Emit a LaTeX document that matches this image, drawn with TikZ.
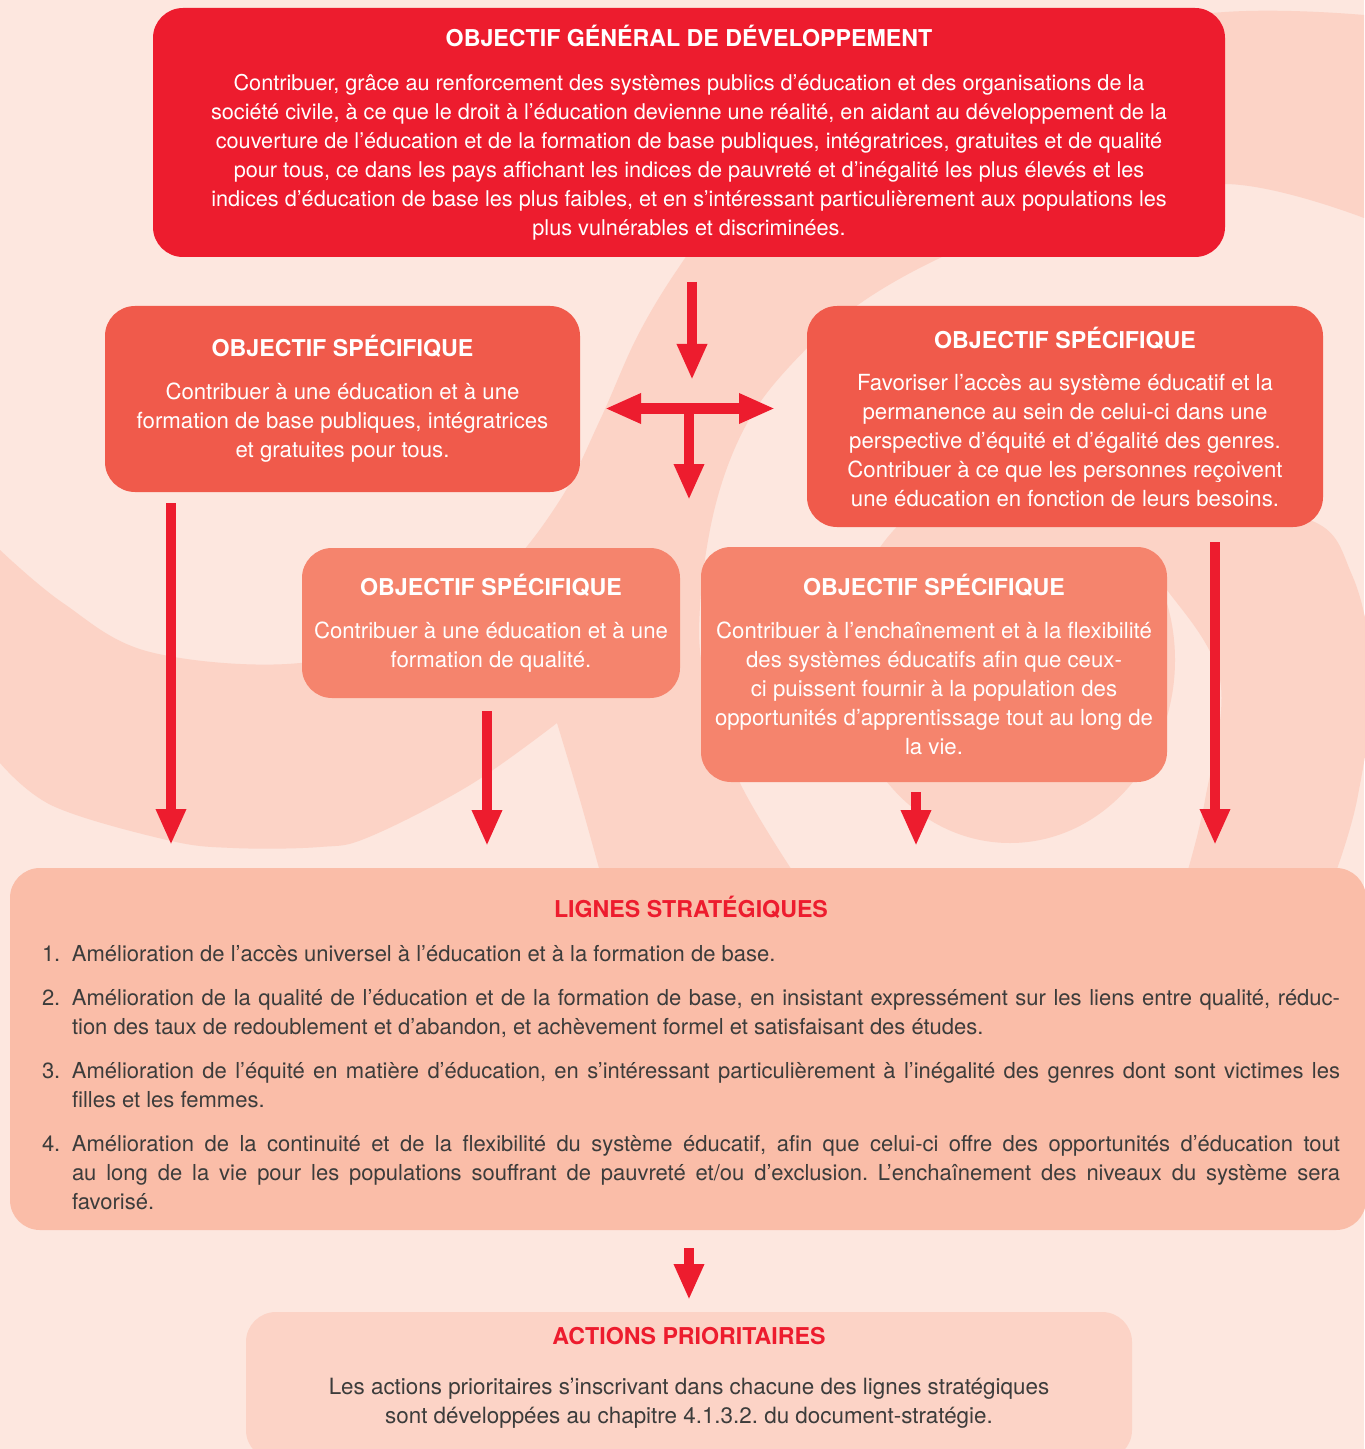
\documentclass[tikz,border=0pt]{standalone}
\usepackage{fontspec}
\setmainfont{TeX Gyre Heros}
\usepackage{tikz}
\usetikzlibrary{arrows.meta, positioning}

\definecolor{fondclair}{HTML}{FDE7DF}
\definecolor{fondvague}{HTML}{FCD3C6}
\definecolor{rouge}{HTML}{ED1C2E}
\definecolor{saumon}{HTML}{F05A4B}
\definecolor{corail}{HTML}{F5846D}
\definecolor{peche}{HTML}{FABDA8}
\definecolor{gris}{HTML}{3C3C3B}

\frenchspacing
\newcommand{\titre}[1]{{\bfseries\fontsize{11.6}{14.5}\selectfont #1}}
\newcommand{\ligne}[2]{\par\noindent\hangindent=15pt\hangafter=1\makebox[15pt][l]{#1}#2\par}

\tikzset{
  boite/.style={rounded corners=15pt, inner sep=0pt, align=center, text=white,
    font=\fontsize{11.1}{14.5}\selectfont},
  fleche/.style={draw=rouge, line width=5.4pt, -{Triangle[width=14pt,length=18pt]}},
}

\begin{document}
\begin{tikzpicture}[x=0.5pt, y=-0.5pt]
   \useasboundingbox (0,0) rectangle (1364,1449);
   \fill[fondclair] (0,0) rectangle (1364,1449);

   % swirls in the background
   \fill[fondvague]
     plot[smooth, tension=0.6] coordinates {(1364,15) (1225,12) (1000,40) (820,120) (720,215)
       (677,270) (637,337) (600,420) (560,500) (500,575) (420,625) (300,663) (150,652) (63,603) (0,550)}
     -- (0,763)
     -- plot[smooth, tension=0.6] coordinates {(0,763) (53,806) (167,840) (233,848) (320,847)
       (369,837) (470,785) (557,723)}
     -- plot[smooth, tension=0.6] coordinates {(557,723) (580,800) (605,890)}
     -- plot[smooth, tension=0.6] coordinates {(805,890) (740,783) (705,680) (700,606) (715,507)
       (745,427) (789,367) (855,307) (942,257) (1050,215) (1225,184) (1364,218)}
     -- cycle;
   \fill[fondvague]
     plot[smooth, tension=0.6] coordinates {(1120,515) (1300,517) (1352,575) (1372,680)
       (1357,800) (1333,880)}
     -- plot[smooth, tension=0.6] coordinates {(1185,880) (1205,800) (1220,680) (1167,590) (1120,545)}
     -- cycle;
   \fill[fondvague] (1010,660) ellipse [x radius=165, y radius=183];

   % boxes
   \node[boite, fill=rouge, minimum width=536pt, minimum height=124.5pt,
     font=\fontsize{10.85}{14.5}\selectfont] (gen) at (689,132.5)
     {\titre{OBJECTIF GÉNÉRAL DE DÉVELOPPEMENT}\\[7.5pt]
      Contribuer, grâce au renforcement des systèmes publics d’éducation et des organisations de la\\
      société civile, à ce que le droit à l’éducation devienne une réalité, en aidant au développement de la\\
      couverture de l’éducation et de la formation de base publiques, intégratrices, gratuites et de qualité\\
      pour tous, ce dans les pays affichant les indices de pauvreté et d’inégalité les plus élevés et les\\
      indices d’éducation de base les plus faibles, et en s’intéressant particulièrement aux populations les\\
      plus vulnérables et discriminées.};
   \node[boite, fill=saumon, minimum width=237.5pt, minimum height=93pt] (os1) at (342.5,399)
     {\titre{OBJECTIF SPÉCIFIQUE}\\[7pt]
      Contribuer à une éducation et à une\\
      formation de base publiques, intégratrices\\
      et gratuites pour tous.};
   \node[boite, fill=saumon, minimum width=258pt, minimum height=110.5pt] (os2) at (1065,416.5)
     {\titre{OBJECTIF SPÉCIFIQUE}\\[6.5pt]
      Favoriser l’accès au système éducatif et la\\
      permanence au sein de celui-ci dans une\\
      perspective d’équité et d’égalité des genres.\\
      Contribuer à ce que les personnes reçoivent\\
      une éducation en fonction de leurs besoins.};
   \node[boite, fill=corail, minimum width=189pt, minimum height=75pt] (os3) at (491,623)
     {\titre{OBJECTIF SPÉCIFIQUE}\\[7pt]
      Contribuer à une éducation et à une\\
      formation de qualité.};
   \node[boite, fill=corail, minimum width=233pt, minimum height=117.5pt] (os4) at (934,664.5)
     {\titre{OBJECTIF SPÉCIFIQUE}\\[7pt]
      Contribuer à l’enchaînement et à la flexibilité\\
      des systèmes éducatifs afin que ceux-\\
      ci puissent fournir à la population des\\
      opportunités d’apprentissage tout au long de\\
      la vie.};
   \node[boite, fill=peche, minimum width=678pt, minimum height=181pt] (lignes) at (688,1049) {};
   \node[boite, text=gris, text width=649pt, align=justify,
     font=\fontsize{11}{14.5}\selectfont] (lignestxt) at (691,1053)
     {\parskip=7.5pt\hyphenpenalty=10000\tolerance=9999
      {\centering\titre{\color{rouge}LIGNES STRATÉGIQUES}\par}
      \ligne{1.}{Amélioration de l’accès universel à l’éducation et à la formation de base.}
      \ligne{2.}{Amélioration de la qualité de l’éducation et de la formation de base, en insistant expressément sur les liens entre qualité, réduc-\linebreak
        tion des taux de redoublement et d’abandon, et achèvement formel et satisfaisant des études.}
      \ligne{3.}{Amélioration de l’équité en matière d’éducation, en s’intéressant particulièrement à l’inégalité des genres dont sont victimes les\linebreak
        filles et les femmes.}
      \ligne{4.}{Amélioration de la continuité et de la flexibilité du système éducatif, afin que celui-ci offre des opportunités d’éducation tout\linebreak
        au long de la vie pour les populations souffrant de pauvreté et/ou d’exclusion. L’enchaînement des niveaux du système sera\linebreak
        favorisé.}};
   \node[boite, fill=fondvague, minimum width=443pt, minimum height=74pt] (actions) at (689,1386) {};
   \node[boite, text=gris, font=\fontsize{11.2}{14.5}\selectfont] (actionstxt) at (689,1378)
     {\titre{\color{rouge}ACTIONS PRIORITAIRES}\\[10.5pt]
      Les actions prioritaires s’inscrivant dans chacune des lignes stratégiques\\
      sont développées au chapitre 4.1.3.2. du document-stratégie.};

   % arrows
   \coordinate (f0a) at (692,282);  \coordinate (f0b) at (692,380);
   \coordinate (cg)  at (605,408.5); \coordinate (cd) at (775,408.5);
   \coordinate (cm)  at (689,403);  \coordinate (cb)  at (689,500);
   \coordinate (f1a) at (171,503);  \coordinate (f1b) at (171,845);
   \coordinate (f2a) at (487,711);  \coordinate (f2b) at (487,846);
   \coordinate (f3a) at (916,792);  \coordinate (f3b) at (916,846);
   \coordinate (f4a) at (1215,542); \coordinate (f4b) at (1215,845);
   \coordinate (f5a) at (689,1248); \coordinate (f5b) at (689,1300);

   \draw[fleche] (f0a) -- (f0b);
   \draw[fleche, {Triangle[width=14pt,length=18pt]}-{Triangle[width=14pt,length=18pt]}] (cg) -- (cd);
   \draw[fleche] (cm) -- (cb);
   \foreach \i in {1,...,5}
     \draw[fleche] (f\i a) -- (f\i b);
\end{tikzpicture}
\end{document}
